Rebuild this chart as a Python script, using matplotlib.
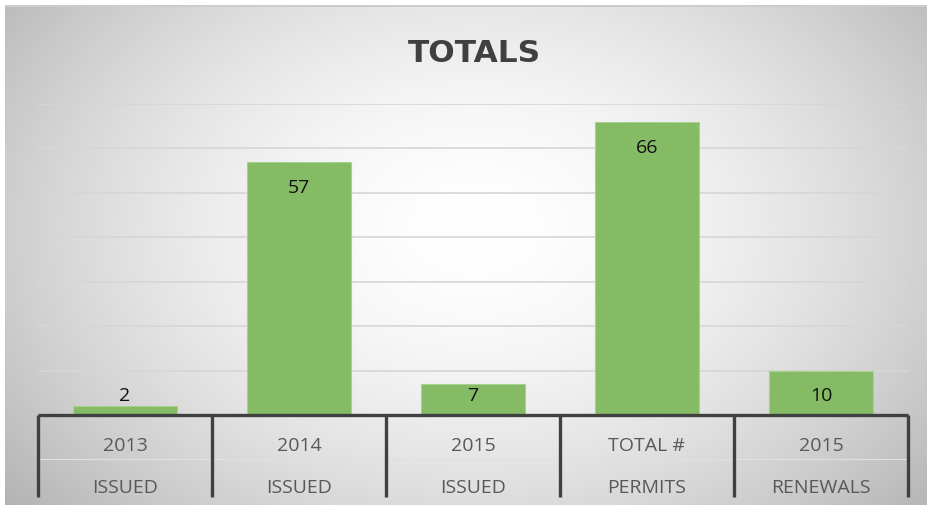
import numpy as np
import matplotlib
matplotlib.use("Agg")
import matplotlib.pyplot as plt

categories_top = ["2013", "2014", "2015", "TOTAL #", "2015"]
categories_bottom = ["ISSUED", "ISSUED", "ISSUED", "PERMITS", "RENEWALS"]
values = [2, 57, 7, 66, 10]
title = "TOTALS"

W, H = 927, 506
fig = plt.figure(figsize=(W / 100, H / 100), dpi=100)

# background radial gradient
bg = fig.add_axes([0, 0, 1, 1], zorder=-5)
yy, xx = np.mgrid[0:H, 0:W]
cx, cy = 475, 230
r = np.sqrt(((xx - cx) / 560.0) ** 2 + ((yy - cy) / 400.0) ** 2)
val = 1.0 - 0.26 * np.clip(r, 0, 1.3) ** 1.7
img = np.dstack([val, val, val])
img[:6, :, :] = 1.0
img[:, :5, :] = 1.0
img[6:8, 5:, :] = 0.80
bg.imshow(img, extent=[0, W, H, 0], aspect="auto", interpolation="bilinear")
bg.set_xlim(0, W)
bg.set_ylim(H, 0)
bg.axis("off")

left, right, base, top = 38, 908, 416, 105
ax = fig.add_axes([left / W, (H - base) / H, (right - left) / W, (base - top) / H])
ax.patch.set_alpha(0)
n = len(values)
x = np.arange(n)
ax.set_xlim(-0.5, n - 0.5)
ax.set_ylim(0, 70)
ax.set_yticks(np.arange(10, 71, 10))
ax.yaxis.grid(True, color="#d6d6d6", linewidth=1.2)
ax.set_axisbelow(True)
ax.tick_params(left=False, labelleft=False, bottom=False, labelbottom=False)
for s in ax.spines.values():
    s.set_visible(False)

ax.bar(x, values, width=0.6, color="#85bb65", edgecolor="#a9d18e", linewidth=0.8, zorder=2)

for xi, v in zip(x, values):
    ax.text(xi, max(v - 5.6, 4.5), str(v), ha="center", va="center",
            fontsize=14, family="Open Sans", color="#111111", zorder=3)

upp = 70 / (base - top)  # units per pixel
axc = "#404040"
ax.plot([-0.5, n - 0.5], [0, 0], color=axc, linewidth=2.4, clip_on=False, zorder=4,
        solid_capstyle="butt")
for d in np.arange(-0.5, n, 1.0):
    ax.plot([d, d], [0, -82 * upp], color=axc, linewidth=2.4, clip_on=False, zorder=4,
            solid_capstyle="butt")
ax.plot([-0.5, n - 0.5], [-44 * upp, -44 * upp], color="#e0e0e0", linewidth=0.8,
        clip_on=False, zorder=3)
for xi, t1, t2 in zip(x, categories_top, categories_bottom):
    ax.text(xi, -30 * upp, t1, ha="center", va="center", fontsize=14,
            family="Open Sans", color="#595959")
    ax.text(xi, -72 * upp, t2, ha="center", va="center", fontsize=14,
            family="Open Sans", color="#595959")

fig.text(474 / W, 1 - 62 / H, title, ha="center", va="baseline", fontsize=22.5,
         fontweight="bold", family="DejaVu Sans", color="#404040")

fig.savefig("out.png", dpi=100)
